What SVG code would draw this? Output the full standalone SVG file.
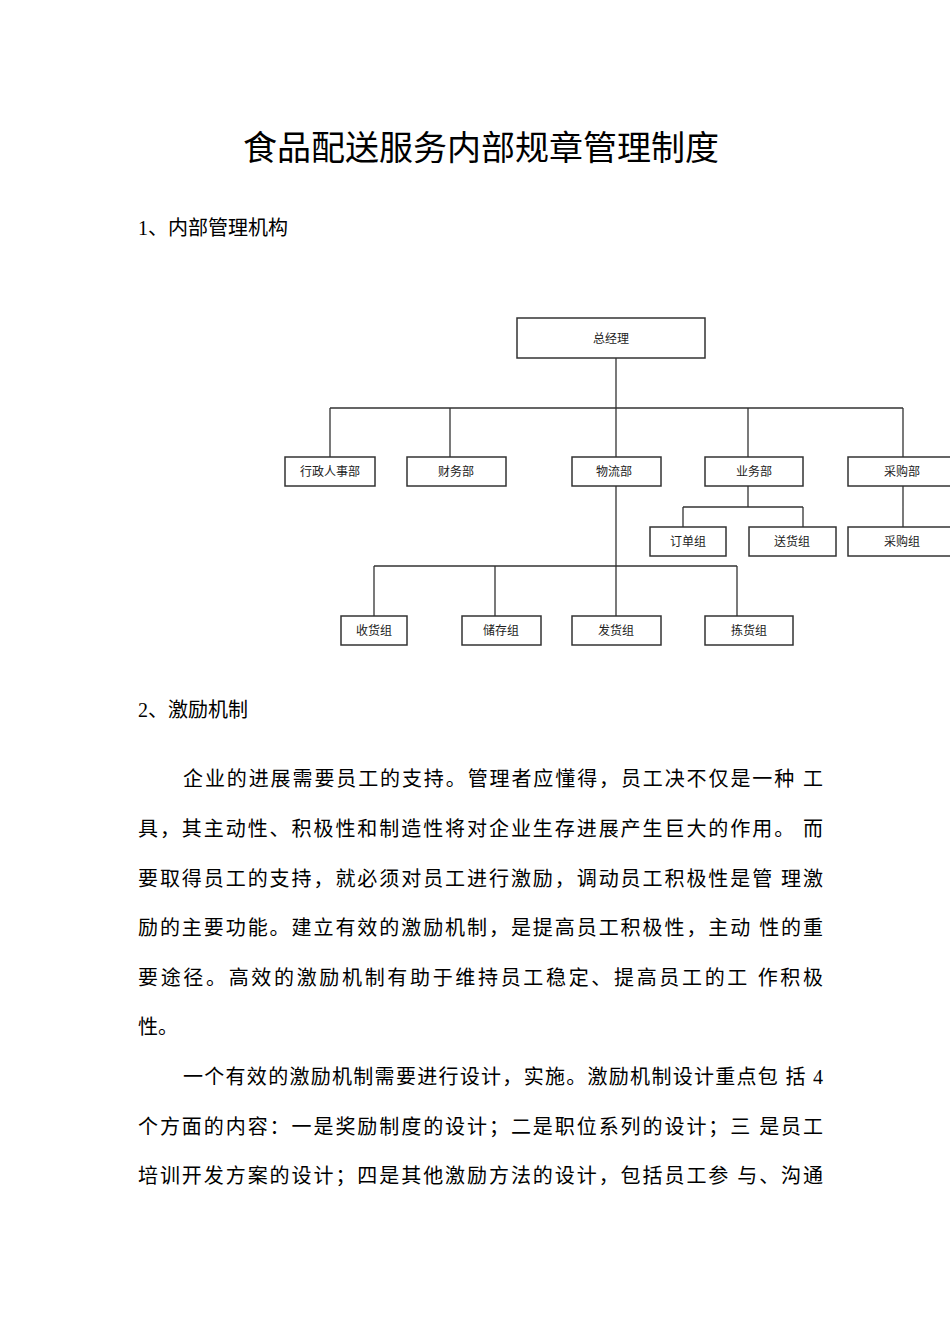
<svg xmlns="http://www.w3.org/2000/svg" width="950" height="1344" viewBox="0 0 950 1344">
<style>
.t{font-family:"Liberation Serif","Noto Sans CJK SC",serif;fill:#000}
.b{font-size:20px}
.n rect{fill:#fff;stroke:#333;stroke-width:1.5}
.n text{font-family:"Noto Sans CJK SC",sans-serif;font-size:12px;text-anchor:middle;fill:#222}
.c{stroke:#333;stroke-width:1.3;fill:none}
</style>
<rect width="950" height="1344" fill="#fff"/>
<text class="t" x="481" y="160" font-size="34" text-anchor="middle">食品配送服务内部规章管理制度</text>
<text class="t b" x="138" y="235">1、内部管理机构</text>
<g id="connectors" class="c">
<path d="M616 358V408M330 408H903M330 408V457M450 408V457M616 408V457M748 408V457M903 408V457"/>
<path d="M748 486V507M683 507H803M683 507V527M803 507V527M903 486V527"/>
<path d="M616 486V566M374 566H737M374 566V616M495 566V616M616 566V616M737 566V616"/>
</g>
<g id="n0" class="n"><rect x="517" y="318" width="188" height="40"/><text x="611" y="343">总经理</text></g>
<g id="n1" class="n"><rect x="285" y="457" width="90" height="29"/><text x="330" y="476">行政人事部</text></g>
<g id="n2" class="n"><rect x="407" y="457" width="99" height="29"/><text x="456" y="476">财务部</text></g>
<g id="n3" class="n"><rect x="572" y="457" width="89" height="29"/><text x="614" y="476">物流部</text></g>
<g id="n4" class="n"><rect x="705" y="457" width="98" height="29"/><text x="754" y="476">业务部</text></g>
<g id="n5" class="n"><rect x="848" y="457" width="104" height="29"/><text x="902" y="476">采购部</text></g>
<g id="n6" class="n"><rect x="650" y="527" width="76" height="29"/><text x="688" y="546">订单组</text></g>
<g id="n7" class="n"><rect x="749" y="527" width="87" height="29"/><text x="792" y="546">送货组</text></g>
<g id="n8" class="n"><rect x="848" y="527" width="104" height="29"/><text x="902" y="546">采购组</text></g>
<g id="n9" class="n"><rect x="341" y="616" width="66" height="29"/><text x="374" y="635" font-size="11">收货组</text></g>
<g id="n10" class="n"><rect x="462" y="616" width="79" height="29"/><text x="501" y="635" font-size="11">储存组</text></g>
<g id="n11" class="n"><rect x="572" y="616" width="89" height="29"/><text x="616" y="635" font-size="11">发货组</text></g>
<g id="n12" class="n"><rect x="705" y="616" width="88" height="29"/><text x="749" y="635" font-size="11">拣货组</text></g>
<text class="t b" x="138" y="717">2、激励机制</text>
<g class="t b">
<text x="183" y="786" textLength="640" lengthAdjust="spacing">企业的进展需要员工的支持。管理者应懂得，员工决不仅是一种  工</text>
<text x="138" y="836" textLength="685" lengthAdjust="spacing">具，其主动性、积极性和制造性将对企业生存进展产生巨大的作用。  而</text>
<text x="138" y="886" textLength="685" lengthAdjust="spacing">要取得员工的支持，就必须对员工进行激励，调动员工积极性是管  理激</text>
<text x="138" y="935" textLength="685" lengthAdjust="spacing">励的主要功能。建立有效的激励机制，是提高员工积极性，主动  性的重</text>
<text x="138" y="985" textLength="685" lengthAdjust="spacing">要途径。高效的激励机制有助于维持员工稳定、提高员工的工  作积极</text>
<text x="138" y="1034">性。</text>
<text x="183" y="1084" textLength="640" lengthAdjust="spacing">一个有效的激励机制需要进行设计，实施。激励机制设计重点包  括 4</text>
<text x="138" y="1134" textLength="685" lengthAdjust="spacing">个方面的内容：一是奖励制度的设计；二是职位系列的设计；三  是员工</text>
<text x="138" y="1183" textLength="685" lengthAdjust="spacing">培训开发方案的设计；四是其他激励方法的设计，包括员工参  与、沟通</text>
</g>
</svg>
